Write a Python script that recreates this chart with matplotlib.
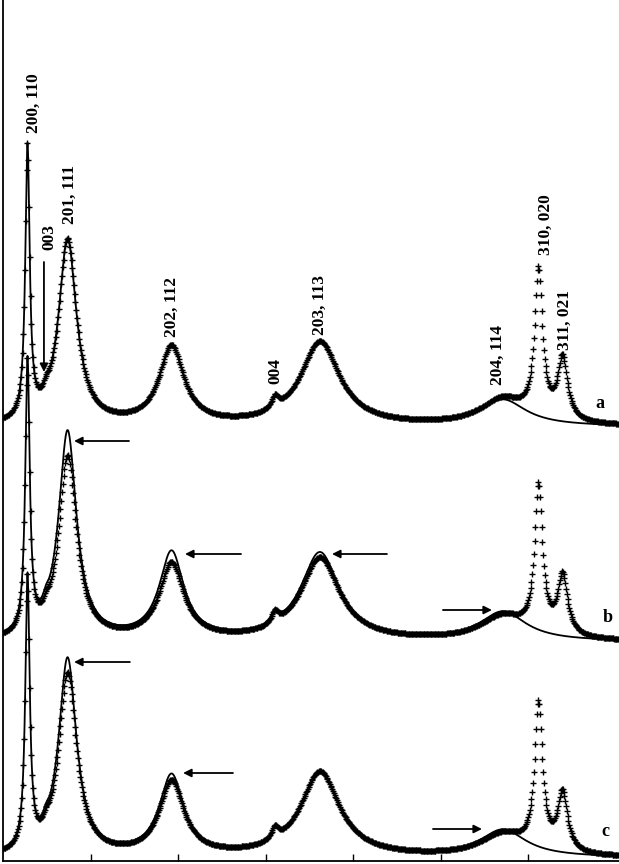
import numpy as np
import matplotlib
matplotlib.use("Agg")
import matplotlib.pyplot as plt

# reflections (2-theta, deg) and half widths
peak_labels = ["200, 110", "003", "201, 111", "202, 112", "004",
               "203, 113", "204, 114", "310, 020", "311, 021"]
peak_pos = [6.40, 7.46, 8.69, 14.63, 20.54, 23.11, 33.57, 35.60, 36.97]
peak_hw = [0.15, 0.20, 0.62, 0.85, 0.25, 1.35, 1.60, 0.27, 0.34]

# peak heights above each trace baseline (observed, + markers)
obs_a = [270, 8, 185, 78, 12, 84, 26, 146, 62]
obs_b = [270, 8, 183, 76, 12, 83, 24, 146, 60]
obs_c = [270, 8, 182, 74, 12, 85, 22, 145, 59]
# fitted curves (solid line) - no 310/020 and 311/021 in the fit
fit_a = [270, 8, 185, 78, 12, 84, 26, 0, 0]
fit_b = [270, 8, 208, 87, 12, 88, 29, 0, 0]
fit_c = [270, 8, 197, 80, 12, 85, 27, 0, 0]

trace_names = ["a", "b", "c"]
trace_offset = [434, 219, 3]

two_theta = np.arange(5.0, 40.2, 0.045)
two_theta_fit = np.arange(5.0, 40.2, 0.01)


def profile(x, heights, offset):
    y = np.full_like(x, float(offset))
    for p, w, h in zip(peak_pos, peak_hw, heights):
        y += h / (1 + ((x - p) / w) ** 2)
    return y


def main():
    plt.rcParams["font.family"] = "Liberation Serif"
    plt.rcParams["font.weight"] = "bold"

    fig = plt.figure(figsize=(6.19, 8.64), dpi=100)
    ax = fig.add_axes([3 / 619, 3 / 864, 616 / 619, 861 / 864])

    for obs, fit, off in zip([obs_a, obs_b, obs_c], [fit_a, fit_b, fit_c],
                             trace_offset):
        ax.plot(two_theta, profile(two_theta, obs, off), "+", color="black",
                ms=4.5, mew=1.0, zorder=2)
        ax.plot(two_theta_fit, profile(two_theta_fit, fit, off), "-",
                color="black", lw=1.3, zorder=3)

    # hkl labels
    label_xy = [(6.75, 758), (7.63, 624), (8.83, 667), (14.66, 554),
                (20.54, 490), (23.11, 556), (33.29, 506), (36.03, 636),
                (37.11, 541)]
    for lab, (x, y) in zip(peak_labels, label_xy):
        ax.text(x, y, lab, rotation=90, ha="center", va="center",
                fontsize=12.5, fontweight="bold")

    for name, (x, y) in zip(trace_names, [(39.11, 457), (39.57, 244), (39.4, 29)]):
        ax.text(x, y, name, ha="center", va="center", fontsize=13,
                fontweight="bold")

    arrows = [((12.2, 420), (9.06, 420)), ((12.25, 199), (9.06, 199)),
              ((18.6, 307), (15.4, 307)), ((26.94, 307), (23.8, 307)),
              ((18.14, 88), (15.29, 88)), ((30.14, 251), (32.94, 251)),
              ((29.57, 32), (32.37, 32)), ((7.34, 599), (7.34, 489))]
    for tail, tip in arrows:
        ax.annotate("", xy=tip, xytext=tail,
                    arrowprops=dict(arrowstyle="-|>", color="black", lw=1.3,
                                    mutation_scale=12, shrinkA=0, shrinkB=0))

    ax.set_xlim(5, 5 + 616 / 17.5)
    ax.set_ylim(0, 861)
    ax.spines["top"].set_visible(False)
    ax.spines["right"].set_visible(False)
    ax.spines["left"].set_linewidth(1.3)
    ax.spines["bottom"].set_linewidth(1.3)
    ax.set_xticks([10, 15, 20, 25, 30, 35])
    ax.set_xticklabels([])
    ax.tick_params(axis="x", direction="in", length=5, width=1)
    ax.set_yticks([])

    fig.savefig("out.png", dpi=100)


if __name__ == "__main__":
    main()
